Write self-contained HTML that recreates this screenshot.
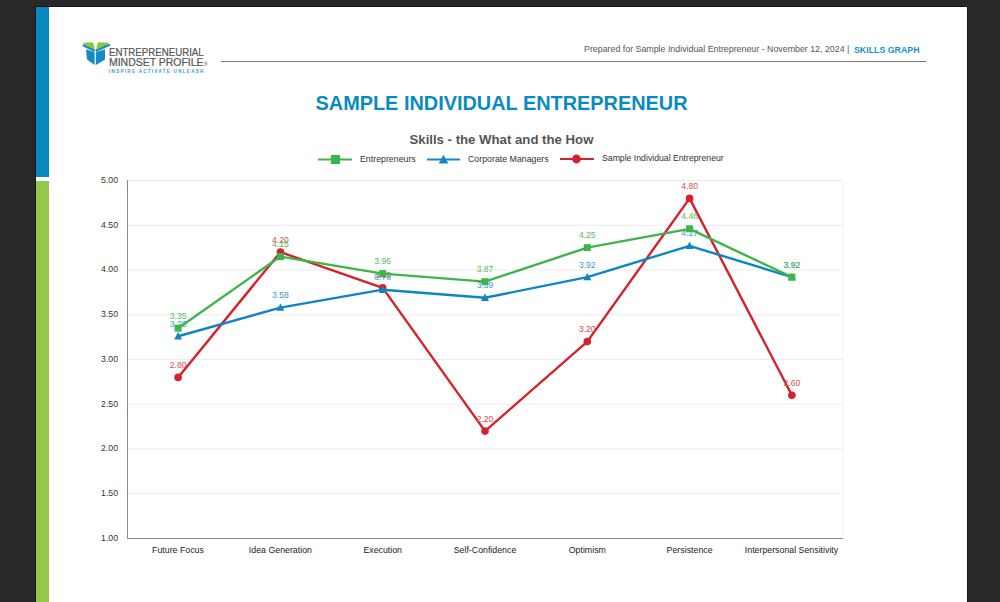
<!DOCTYPE html>
<html><head><meta charset="utf-8">
<style>
html,body{margin:0;padding:0;}
body{width:1000px;height:602px;background:#282828;position:relative;overflow:hidden;font-family:"Liberation Sans",sans-serif;}
.page{position:absolute;left:36px;top:7px;width:931px;height:620px;background:#fff;box-shadow:0 0 0 1px #151515;}
.bar-blue{position:absolute;left:36px;top:7px;width:13px;height:170px;background:#0789bd;}
.bar-green{position:absolute;left:36px;top:181px;width:13px;height:430px;background:#93c84b;}
.t{position:absolute;white-space:nowrap;line-height:1;}
</style></head>
<body>
<div class="page"></div>
<div class="bar-blue"></div>
<div class="bar-green"></div>

<!-- logo -->
<svg style="position:absolute;left:78px;top:38px" width="36" height="30" viewBox="78 38 36 30">
  <polygon points="83,42.8 93,42.3 95.2,50 88,48.5" fill="#8cc63f"/>
  <polygon points="109.5,42.8 98,42.3 95.8,50 103,48.5" fill="#8cc63f"/>
  <polygon points="86,49.3 94.6,52.3 94.6,65 87,59.5" fill="#168ac6"/>
  <polygon points="95.8,52.3 105,49.3 105,59.5 95.8,65" fill="#168ac6"/>
  <line x1="82.8" y1="45" x2="94.6" y2="51" stroke="#168ac6" stroke-width="2"/>
  <line x1="110" y1="44.6" x2="95.8" y2="51" stroke="#168ac6" stroke-width="2"/>
</svg>
<div class="t" style="left:109px;top:47.5px;font-size:10px;color:#555;transform:scaleX(0.968);transform-origin:0 0;-webkit-text-stroke:0.2px #555;">ENTREPRENEURIAL</div>
<div class="t" style="left:109px;top:57.5px;font-size:10px;color:#555;transform:scaleX(1.045);transform-origin:0 0;-webkit-text-stroke:0.2px #555;">MINDSET PROFILE<span style="font-size:5px;-webkit-text-stroke:0;vertical-align:0;margin-left:0.3px">®</span></div>
<div class="t" style="left:109px;top:69.6px;font-size:4.5px;color:#2a9bd4;letter-spacing:1.32px;font-weight:bold;">INSPIRE ACTIVATE UNLEASH</div>

<!-- header -->
<div style="position:absolute;left:221px;top:61px;width:705px;height:1px;background:#777;"></div>
<div class="t" style="left:584px;top:45.4px;font-size:8.84px;color:#555;">Prepared for Sample Individual Entrepreneur - November 12, 2024 |</div>
<div class="t" style="left:854px;top:45.6px;font-size:8.8px;color:#1a8fc4;font-weight:bold;">SKILLS GRAPH</div>

<div class="t" style="left:315.5px;top:94px;font-size:19.9px;color:#0a8bc0;font-weight:bold;">SAMPLE INDIVIDUAL ENTREPRENEUR</div>
<div class="t" style="left:409.5px;top:133px;font-size:13.2px;color:#555;font-weight:bold;">Skills - the What and the How</div>

<!-- chart -->
<svg style="position:absolute;left:0;top:0" width="1000" height="602" viewBox="0 0 1000 602" font-family="Liberation Sans" >
  <g stroke="#ebebeb" stroke-width="1">
    <line x1="127" y1="180.5" x2="843" y2="180.5"/>
    <line x1="127" y1="225.25" x2="843" y2="225.25"/>
    <line x1="127" y1="270" x2="843" y2="270"/>
    <line x1="127" y1="314.75" x2="843" y2="314.75"/>
    <line x1="127" y1="359.5" x2="843" y2="359.5"/>
    <line x1="127" y1="404.25" x2="843" y2="404.25"/>
    <line x1="127" y1="449" x2="843" y2="449"/>
    <line x1="127" y1="493.75" x2="843" y2="493.75"/>
  </g>
  <line x1="843" y1="180" x2="843" y2="538" stroke="#f4f4f4" stroke-width="1"/>
  <line x1="127.5" y1="180" x2="127.5" y2="538.5" stroke="#8a8a8a" stroke-width="1"/>
  <line x1="127" y1="538.5" x2="843" y2="538.5" stroke="#8a8a8a" stroke-width="1"/>

  <g font-size="8.7" fill="#333" text-anchor="end">
    <text x="118" y="182.80">5.00</text>
    <text x="118" y="227.55">4.50</text>
    <text x="118" y="272.30">4.00</text>
    <text x="118" y="317.05">3.50</text>
    <text x="118" y="361.80">3.00</text>
    <text x="118" y="406.55">2.50</text>
    <text x="118" y="451.30">2.00</text>
    <text x="118" y="496.05">1.50</text>
    <text x="118" y="540.80">1.00</text>
  </g>
  <g font-size="8.8" fill="#222" text-anchor="middle">
    <text x="178" y="553">Future Focus</text>
    <text x="280.4" y="553">Idea Generation</text>
    <text x="382.7" y="553">Execution</text>
    <text x="485" y="553">Self-Confidence</text>
    <text x="587.3" y="553">Optimism</text>
    <text x="689.6" y="553">Persistence</text>
    <text x="791.5" y="553">Interpersonal Sensitivity</text>
  </g>

  <!-- legend -->
  <line x1="318" y1="159.5" x2="352" y2="159.5" stroke="#3db54a" stroke-width="2.2"/>
  <rect x="331" y="155" width="9" height="9" fill="#3db54a"/>
  <text x="360" y="161.8" font-size="8.8" fill="#333">Entrepreneurs</text>
  <line x1="427" y1="159.5" x2="460" y2="159.5" stroke="#1587c5" stroke-width="2.2"/>
  <polygon points="443.5,154.8 448.3,163.6 438.7,163.6" fill="#1587c5"/>
  <text x="468" y="161.8" font-size="8.8" fill="#333">Corporate Managers</text>
  <line x1="560" y1="159" x2="594" y2="159" stroke="#d7202c" stroke-width="2.2"/>
  <circle cx="576.5" cy="159" r="4.4" fill="#d7202c"/>
  <text x="602" y="161" font-size="8.7" fill="#333">Sample Individual Entrepreneur</text>

  <!-- series -->
  <g id="series">
<polyline points="178.1,377.40 280.4,252.10 382.7,287.90 485.0,431.10 587.3,341.60 689.6,198.40 791.9,395.30" fill="none" stroke="#d7202c" stroke-width="2.4" stroke-linejoin="round"/>
<circle cx="178.1" cy="377.40" r="3.8" fill="#d7202c"/>
<circle cx="280.4" cy="252.10" r="3.8" fill="#d7202c"/>
<circle cx="382.7" cy="287.90" r="3.8" fill="#d7202c"/>
<circle cx="485.0" cy="431.10" r="3.8" fill="#d7202c"/>
<circle cx="587.3" cy="341.60" r="3.8" fill="#d7202c"/>
<circle cx="689.6" cy="198.40" r="3.8" fill="#d7202c"/>
<circle cx="791.9" cy="395.30" r="3.8" fill="#d7202c"/>
<g font-size="8.6" text-anchor="middle" fill="#de4a55"><text x="178.1" y="367.90">2.80</text><text x="280.4" y="242.60">4.20</text><text x="382.7" y="278.40">3.80</text><text x="485.0" y="421.60">2.20</text><text x="587.3" y="332.10">3.20</text><text x="689.6" y="188.90">4.80</text><text x="791.9" y="385.80">2.60</text></g>
<polyline points="178.1,336.23 280.4,307.59 382.7,289.69 485.0,297.75 587.3,277.16 689.6,245.84 791.9,277.16" fill="none" stroke="#0d86c3" stroke-width="2.4" stroke-linejoin="round"/>
<polygon points="178.1,332.03 182.1,339.43 174.1,339.43" fill="#0d86c3"/>
<polygon points="280.4,303.39 284.4,310.79 276.4,310.79" fill="#0d86c3"/>
<polygon points="382.7,285.49 386.7,292.89 378.7,292.89" fill="#0d86c3"/>
<polygon points="485.0,293.55 489.0,300.94 481.0,300.94" fill="#0d86c3"/>
<polygon points="587.3,272.96 591.3,280.36 583.3,280.36" fill="#0d86c3"/>
<polygon points="689.6,241.64 693.6,249.04 685.6,249.04" fill="#0d86c3"/>
<polygon points="791.9,272.96 795.9,280.36 787.9,280.36" fill="#0d86c3"/>
<g font-size="8.6" text-anchor="middle" fill="#3b99d5"><text x="178.1" y="326.73">3.26</text><text x="280.4" y="298.09">3.58</text><text x="382.7" y="280.19">3.78</text><text x="485.0" y="288.25">3.69</text><text x="587.3" y="267.66">3.92</text><text x="689.6" y="236.34">4.27</text><text x="791.9" y="267.66">3.92</text></g>
<polyline points="178.1,328.17 280.4,256.57 382.7,273.58 485.0,281.63 587.3,247.62 689.6,228.83 791.9,277.16" fill="none" stroke="#3db54a" stroke-width="2.4" stroke-linejoin="round"/>
<rect x="174.6" y="324.67" width="7" height="7" fill="#3db54a"/>
<rect x="276.9" y="253.07" width="7" height="7" fill="#3db54a"/>
<rect x="379.2" y="270.08" width="7" height="7" fill="#3db54a"/>
<rect x="481.5" y="278.13" width="7" height="7" fill="#3db54a"/>
<rect x="583.8" y="244.12" width="7" height="7" fill="#3db54a"/>
<rect x="686.1" y="225.33" width="7" height="7" fill="#3db54a"/>
<rect x="788.4" y="273.66" width="7" height="7" fill="#3db54a"/>
<g font-size="8.6" text-anchor="middle" fill="#58ba5a"><text x="178.1" y="318.67">3.35</text><text x="280.4" y="247.07">4.15</text><text x="382.7" y="264.08">3.96</text><text x="485.0" y="272.13">3.87</text><text x="587.3" y="238.12">4.25</text><text x="689.6" y="219.33">4.46</text><text x="791.9" y="267.66">3.92</text></g>
</g>
</svg>
</body></html>
